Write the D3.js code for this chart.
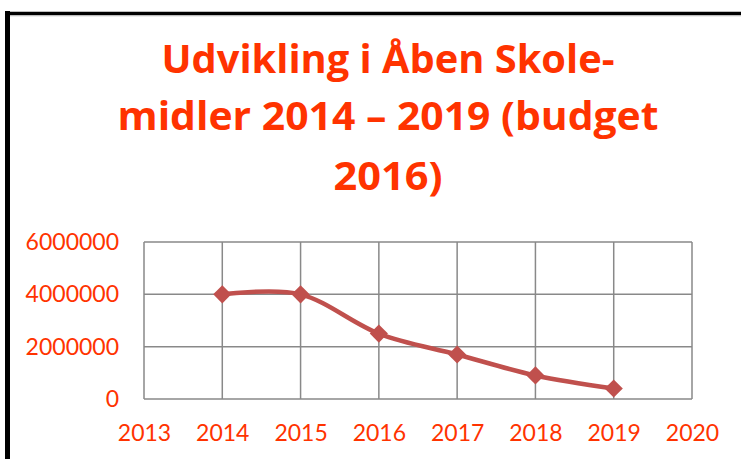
<!DOCTYPE html>
<html>
<head>
<meta charset="utf-8">
<script src="https://cdn.jsdelivr.net/npm/d3@7"></script>
<style>
  body { margin: 0; background: #fff; }
  svg { display: block; }
</style>
</head>
<body>
<div id="chart"></div>
<script>
// data
var years = [2014, 2015, 2016, 2017, 2018, 2019];
var values = [4000000, 4000000, 2500000, 1700000, 900000, 400000];
var xTicks = [2013, 2014, 2015, 2016, 2017, 2018, 2019, 2020];
var yTicks = [0, 2000000, 4000000, 6000000];
var titleLines = ["Udvikling i Åben Skole-", "midler 2014 – 2019 (budget", "2016)"];

var W = 741, H = 459;
var margin = {top: 242, right: 49, bottom: 60, left: 144},
    width = W - margin.left - margin.right,
    height = H - margin.top - margin.bottom;

var orange = "#FF3300";

var root = d3.select("#chart").append("svg")
    .attr("width", W)
    .attr("height", H);

// outer frame (cut off at right and bottom)
root.append("line").attr("x1", 7.5).attr("x2", 7.5).attr("y1", 11).attr("y2", H)
    .attr("stroke", "#000").attr("stroke-width", 5);
root.append("line").attr("x1", 5).attr("x2", W).attr("y1", 13.5).attr("y2", 13.5)
    .attr("stroke", "#000").attr("stroke-width", 3.5);
root.append("line").attr("x1", 10).attr("x2", W).attr("y1", 15.8).attr("y2", 15.8)
    .attr("stroke", "#bbb").attr("stroke-width", 1);

// title
var titleLens = [453, 541, 109];
var titleY = [73, 130, 190];
root.selectAll("text.title").data(titleLines).enter()
    .append("text")
    .attr("class", "title")
    .attr("x", 388)
    .attr("y", function(d, i) { return titleY[i]; })
    .attr("text-anchor", "middle")
    .attr("font-family", "'Open Sans', Lato, sans-serif")
    .attr("font-weight", "bold")
    .attr("font-size", "39px")
    .attr("fill", orange)
    .attr("textLength", function(d, i) { return titleLens[i]; })
    .attr("lengthAdjust", "spacingAndGlyphs")
    .text(function(d) { return d; });

var svg = root.append("g")
    .attr("transform", "translate(" + margin.left + "," + margin.top + ")");

var x = d3.scaleLinear().domain([2013, 2020]).range([0, width]);
var y = d3.scaleLinear().domain([0, 6000000]).range([height, 0]);

// grid
svg.selectAll("line.hgrid").data(yTicks).enter()
    .append("line")
    .attr("x1", 0).attr("x2", width)
    .attr("y1", function(d) { return y(d); })
    .attr("y2", function(d) { return y(d); })
    .attr("stroke", "#898989").attr("stroke-width", 1.5);

svg.selectAll("line.vgrid").data(xTicks).enter()
    .append("line")
    .attr("y1", 0).attr("y2", height)
    .attr("x1", function(d) { return x(d); })
    .attr("x2", function(d) { return x(d); })
    .attr("stroke", "#898989").attr("stroke-width", 1.5);

// axes labels
var yAxis = svg.append("g")
    .call(d3.axisLeft(y).tickValues(yTicks).tickSize(0).tickPadding(25).tickFormat(d3.format("d")));
yAxis.select(".domain").remove();
yAxis.selectAll("text")
    .attr("font-family", "Lato, sans-serif")
    .attr("font-size", "23px")
    .attr("fill", orange);

var xAxis = svg.append("g")
    .attr("transform", "translate(0," + height + ")")
    .call(d3.axisBottom(x).tickValues(xTicks).tickSize(0).tickPadding(26).tickFormat(d3.format("d")));
xAxis.select(".domain").remove();
xAxis.selectAll("text")
    .attr("font-family", "Lato, sans-serif")
    .attr("font-size", "23px")
    .attr("fill", orange);

// smoothed line
var pts = years.map(function(d, i) { return [d, values[i]]; });
var line = d3.line()
    .x(function(d) { return x(d[0]); })
    .y(function(d) { return y(d[1]); })
    .curve(d3.curveCatmullRom.alpha(0));

svg.append("path")
    .datum(pts)
    .attr("d", line)
    .attr("fill", "none")
    .attr("stroke", "#C0504D")
    .attr("stroke-width", 4.5)
    .attr("stroke-linejoin", "round");

// diamond markers
svg.selectAll("path.marker").data(pts).enter()
    .append("path")
    .attr("class", "marker")
    .attr("d", d3.symbol().type(d3.symbolSquare).size(165))
    .attr("transform", function(d) { return "translate(" + x(d[0]) + "," + y(d[1]) + ") rotate(45)"; })
    .attr("fill", "#C0504D");
</script>
</body>
</html>
